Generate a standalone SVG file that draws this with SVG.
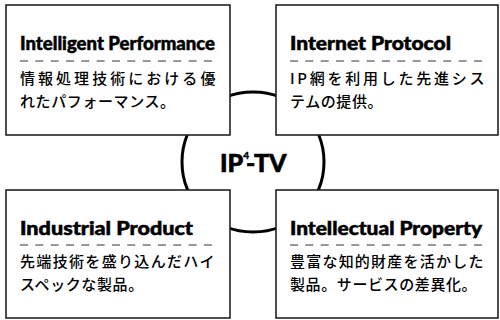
<svg xmlns="http://www.w3.org/2000/svg" width="500" height="320" viewBox="0 0 500 320">
<style>
.box{fill:#fff;stroke:#222;stroke-width:1.6}
.title{font-family:Lato,"Liberation Sans",sans-serif;font-weight:900;font-size:18px;fill:#000;stroke:#000;stroke-width:0.5}
.dash{stroke:#777;stroke-width:1.5;stroke-dasharray:8 7.33;fill:none}
.jp{font-family:"Noto Sans CJK JP",sans-serif;font-size:15px;font-weight:500;letter-spacing:0.6px;fill:#000}
.ring{fill:none;stroke:#000;stroke-width:3}
.center{font-family:Lato,"Liberation Sans",sans-serif;font-weight:900;font-size:25px;fill:#000;stroke:#000;stroke-width:0.6}
</style>
<rect width="500" height="320" fill="#fff"/>
<g id="connectors">
<ellipse class="ring" cx="253" cy="162" rx="71" ry="70"/>
</g>
<g id="hub">
<text class="center" x="220" y="172">IP<tspan font-size="10" stroke-width="0.3" dy="-13">4</tspan><tspan dx="-3" dy="13">-TV</tspan></text>
</g>
<g id="intelligent-performance">
<rect class="box" x="6" y="5" width="224" height="130"/>
<text class="title" x="20" y="50" textLength="195" lengthAdjust="spacingAndGlyphs">Intelligent Performance</text>
<line class="dash" x1="20" y1="61" x2="214" y2="61"/>
<text class="jp" x="20" y="84" textLength="196" lengthAdjust="spacing">情報処理技術における優</text>
<text class="jp" x="20" y="107">れたパフォーマンス。</text>
</g>
<g id="internet-protocol">
<rect class="box" x="276" y="5" width="222" height="130"/>
<text class="title" x="290" y="50" textLength="161" lengthAdjust="spacingAndGlyphs">Internet Protocol</text>
<line class="dash" x1="290" y1="61" x2="484" y2="61"/>
<text class="jp" x="290" y="84" textLength="195" lengthAdjust="spacing">IP網を利用した先進シス</text>
<text class="jp" x="290" y="107">テムの提供。</text>
</g>
<g id="industrial-product">
<rect class="box" x="6" y="190" width="224" height="128"/>
<text class="title" x="20" y="235" textLength="173" lengthAdjust="spacingAndGlyphs">Industrial Product</text>
<line class="dash" x1="20" y1="245" x2="214" y2="245"/>
<text class="jp" x="20" y="267" textLength="195" lengthAdjust="spacing">先端技術を盛り込んだハイ</text>
<text class="jp" x="20" y="290">スペックな製品。</text>
</g>
<g id="intellectual-property">
<rect class="box" x="276" y="190" width="222" height="128"/>
<text class="title" x="290" y="235" textLength="192" lengthAdjust="spacingAndGlyphs">Intellectual Property</text>
<line class="dash" x1="290" y1="245" x2="484" y2="245"/>
<text class="jp" x="290" y="267" textLength="194" lengthAdjust="spacing">豊富な知的財産を活かした</text>
<text class="jp" x="290" y="290">製品。サービスの差異化。</text>
</g>
</svg>
